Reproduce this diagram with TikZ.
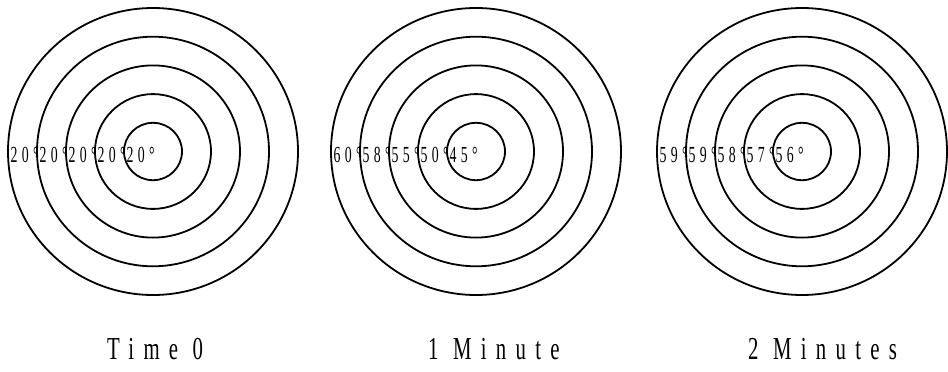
\documentclass[tikz,border=0pt]{standalone}
\usepackage{fontspec}
\newfontfamily\degfont[FakeStretch=0.6,LetterSpace=19]{Liberation Serif}
\newfontfamily\capfont[FakeStretch=0.65,LetterSpace=29]{Liberation Serif}
\begin{document}
\begin{tikzpicture}[x=1pt,y=-1pt,
  ring/.style={line width=1.8pt},
  deglabel/.style={font=\degfont\fontsize{23}{23}\selectfont, anchor=base west, inner sep=0pt},
  captext/.style={font=\capfont\fontsize{32}{32}\selectfont, anchor=base west, inner sep=0pt}]
\useasboundingbox (0,0) rectangle (948,372);
\foreach \cx/\n in {153/1, 476/2, 802/3}{
  \foreach \k in {1,...,5}
    \draw[ring] (\cx,151.5) ellipse [x radius={29*\k}, y radius={28.7*\k}];
}
% degree labels
\foreach \cx/\n/\a/\b/\c/\d/\e in {153/1/20/20/20/20/20, 476/2/60/58/55/50/45, 802/3/59/59/58/57/56}{
  \node[deglabel] (l\n a) at (\cx-145+2.5,162) {\a°};
  \node[deglabel] (l\n b) at (\cx-116+2.5,162) {\b°};
  \node[deglabel] (l\n c) at (\cx-87+2.5,162) {\c°};
  \node[deglabel] (l\n d) at (\cx-58+2.5,162) {\d°};
  \node[deglabel] (l\n e) at (\cx-29+2.5,162) {\e°};
}
\node[captext] (t0) at (107,359) {Time 0};
\node[captext] (t1) at (428,359) {1 Minute};
\node[captext] (t2) at (748,359) {2 Minutes};
\end{tikzpicture}
\end{document}
